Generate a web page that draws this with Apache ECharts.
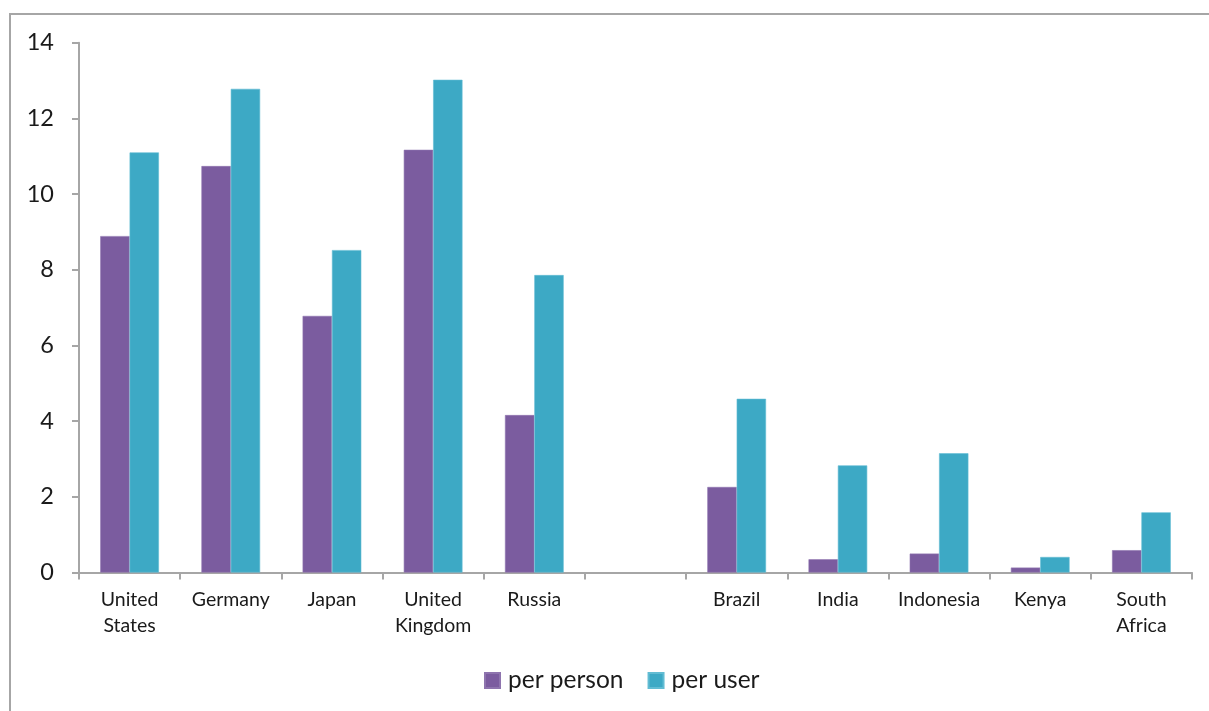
<!DOCTYPE html>
<html>
<head>
<meta charset="utf-8">
<script src="https://cdn.jsdelivr.net/npm/echarts@6/dist/echarts.min.js"></script>
<style>
  html, body { margin: 0; padding: 0; background: #fff; }
  #chart { width: 1209px; height: 711px; }
</style>
</head>
<body>
<div id="chart"></div>
<script>
// Countries (an empty slot separates the two groups)
const categories = ['United\nStates', 'Germany', 'Japan', 'United\nKingdom', 'Russia', '',
  'Brazil', 'India', 'Indonesia', 'Kenya', 'South\nAfrica'];
const perPerson = [8.89, 10.74, 6.78, 11.17, 4.16, null, 2.26, 0.35, 0.50, 0.13, 0.59];
const perUser   = [11.10, 12.78, 8.52, 13.02, 7.86, null, 4.59, 2.83, 3.15, 0.41, 1.59];
const seriesNames = ['per person', 'per user'];
const yTicks = { min: 0, max: 14, interval: 2 };

const font = 'Lato, "Open Sans", sans-serif';
const axisGrey = '#A6A6A6';

const chart = echarts.init(document.getElementById('chart'), null, { renderer: 'canvas' });
chart.setOption({
  animation: false,
  backgroundColor: '#fff',
  graphic: [{
    type: 'rect',
    shape: { x: 10, y: 14, width: 1400, height: 900 },
    style: { fill: 'none', stroke: axisGrey, lineWidth: 2 },
    silent: true
  }],
  grid: { left: 79, right: 17, top: 42.7, bottom: 138.5 },
  legend: {
    bottom: 13,
    left: 479,
    itemWidth: 15,
    itemHeight: 15,
    itemGap: 24,
    icon: 'rect',
    textStyle: { fontFamily: font, fontSize: 24.5, color: '#1a1a1a', padding: [0, 0, 0, 3] },
    data: seriesNames
  },
  xAxis: {
    type: 'category',
    data: categories,
    axisLine: { lineStyle: { color: axisGrey, width: 2 } },
    axisTick: { show: true, length: 7, inside: false, alignWithLabel: false, lineStyle: { color: axisGrey, width: 2 } },
    axisLabel: {
      fontFamily: font, fontSize: 19.5, color: '#1a1a1a', lineHeight: 26, margin: 14,
      interval: 0
    },
    splitLine: { show: false }
  },
  yAxis: {
    type: 'value',
    min: yTicks.min, max: yTicks.max, interval: yTicks.interval,
    axisLine: { show: true, lineStyle: { color: axisGrey, width: 2 } },
    axisTick: { show: true, length: 7, lineStyle: { color: axisGrey, width: 2 } },
    axisLabel: { fontFamily: font, fontSize: 23.5, color: '#1a1a1a', margin: 25 },
    splitLine: { show: false }
  },
  series: [
    {
      name: seriesNames[0], type: 'bar', data: perPerson,
      barGap: '0%', barCategoryGap: '42%',
      itemStyle: { color: '#7B5C9F', borderColor: '#8E74AE', borderWidth: 0.6 }
    },
    {
      name: seriesNames[1], type: 'bar', data: perUser,
      barGap: '0%', barCategoryGap: '42%',
      itemStyle: { color: '#3DA9C5', borderColor: '#62BCD3', borderWidth: 0.6 }
    }
  ]
});
</script>
</body>
</html>
